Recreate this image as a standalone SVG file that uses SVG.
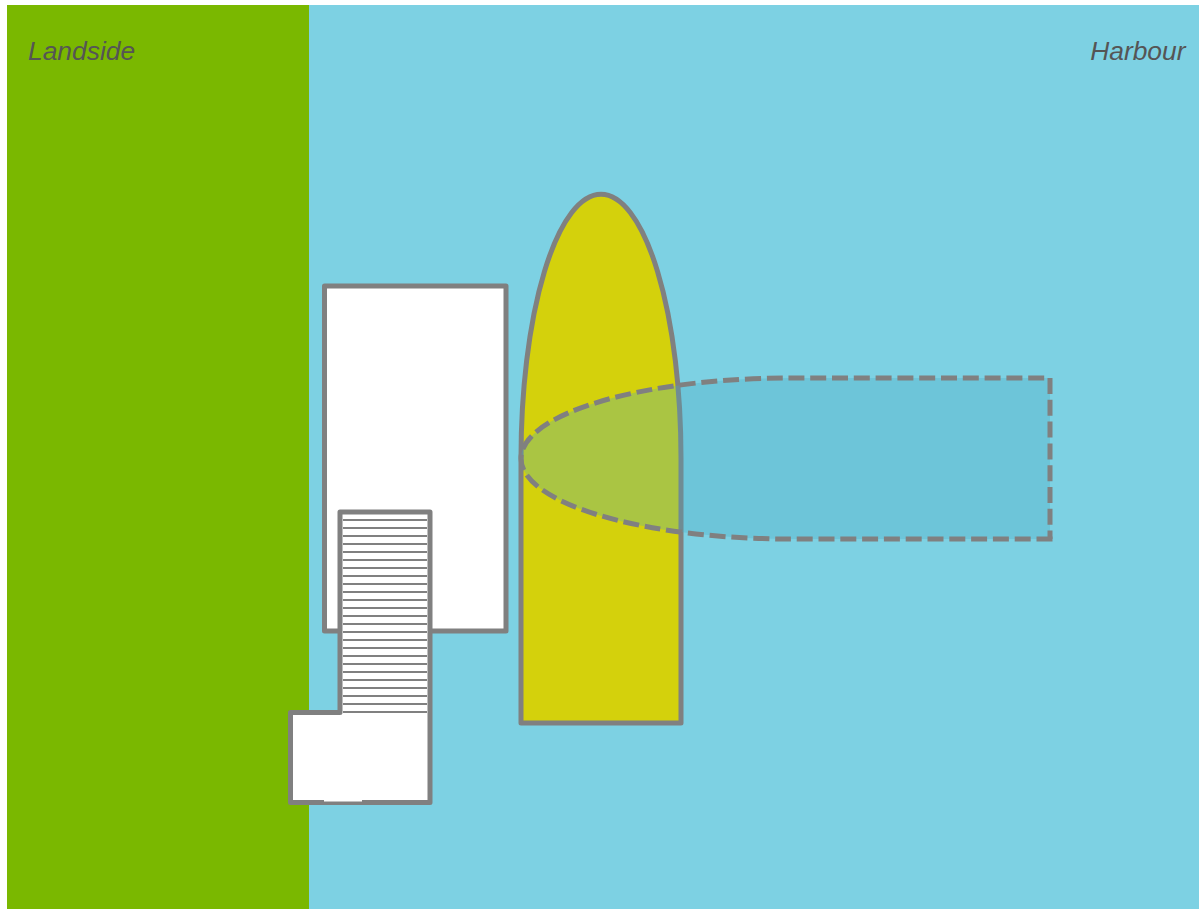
<svg xmlns="http://www.w3.org/2000/svg" width="1199" height="909" viewBox="0 0 1199 909">
<style>
.o{stroke:#808080;stroke-width:5;stroke-linejoin:round;fill:#fff}
.l{stroke:#808080;stroke-width:2;fill:none}
.d{stroke:#808080;stroke-width:5;stroke-dasharray:16 5.800;fill:none}
.t{font-family:"Liberation Sans",Arial,sans-serif;font-style:italic;font-size:26.400px;fill:#555}
</style>
<rect width="1199" height="909" fill="#fff"/>
<g id="landside"><rect x="7" y="5" width="302" height="904" fill="#7AB800"/><text class="t" x="28" y="60">Landside</text></g>
<g id="harbour"><rect x="309" y="5" width="890" height="904" fill="#7DD1E3"/><text class="t" x="1185.500" y="60" text-anchor="end">Harbour</text></g>
<g id="quay"><rect class="o" x="324.500" y="286" width="181.500" height="345"/></g>
<g id="ramp">
<path class="o" d="M290.500 712.500H340V512H430V802.500H290.500Z"/>
<path class="l" d="M343 520H427M343 528H427M343 536H427M343 544H427M343 552H427M343 560H427M343 568H427M343 576H427M343 584H427M343 592H427M343 600H427M343 608H427M343 616H427M343 624H427M343 632H427M343 640H427M343 648H427M343 656H427M343 664H427M343 672H427M343 680H427M343 688H427M343 696H427M343 704H427M343 712H427"/>
<rect x="324" y="800" width="38" height="1.500" fill="#fff"/>
</g>
<g id="vessel"><path d="M521 723V458A80 264 0 0 1 681 458V723Z" fill="#D4D10C" stroke="#808080" stroke-width="5" stroke-linejoin="round"/></g>
<g id="vessel-swung">
<path d="M521 458.500A269 80.500 0 0 1 790 378H1050V539H790A269 80.500 0 0 1 521 458.500Z" fill="#48A9C4" fill-opacity=".3"/>
<path class="d" style="stroke-dashoffset:-5.800px" d="M1050 378H790A269 80.500 0 0 0 521 458.500"/>
<path class="d" d="M1050 378V539"/>
<path class="d" d="M1052.500 539H790A269 80.500 0 0 1 521 458.500"/>
</g>
<g id="connectors"></g>
</svg>
